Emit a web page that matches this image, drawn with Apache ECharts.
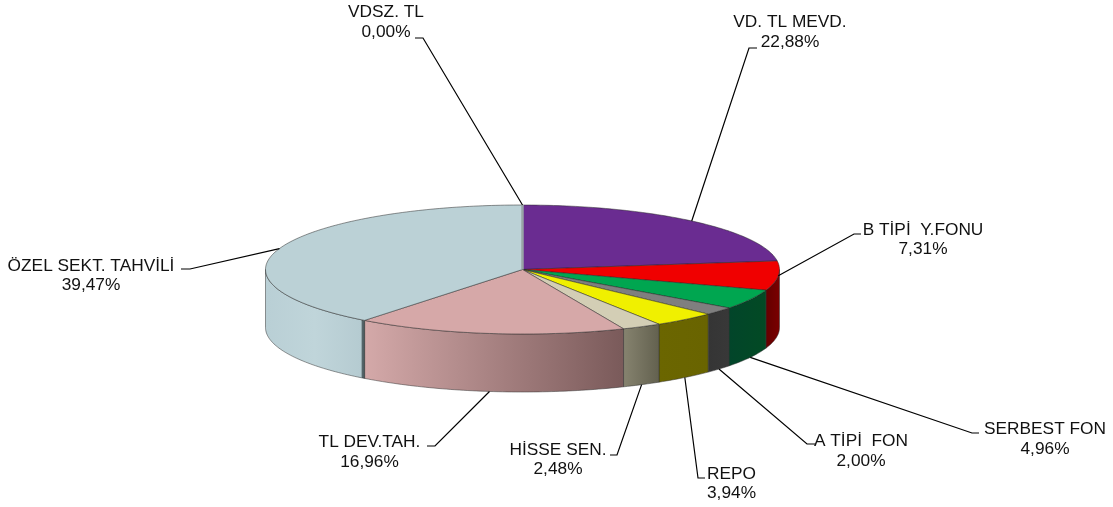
<!DOCTYPE html>
<html>
<head>
<meta charset="utf-8">
<title>Portfoy dagilimi</title>
<style>
	html,body{margin:0;padding:0;background:#fff;}
	#chart{width:1113px;height:507px;}
</style>
<script src="https://cdn.jsdelivr.net/npm/echarts@6/dist/echarts.min.js"></script>
</head>
<body>
<div id="chart"></div>
<script>
var categories=['VDSZ. TL','VD. TL MEVD.','B TİPİ  Y.FONU','SERBEST FON','A TİPİ  FON','REPO','HİSSE SEN.','TL DEV.TAH.','ÖZEL SEKT. TAHVİLİ'];
var shares=[0.00,22.88,7.31,4.96,2.00,3.94,2.48,16.96,39.47];

//colours of the slices, top face and side wall (gradient stops left to right)
var topColors=['#98a4a6','#6a2c91','#f00000','#00a650','#7f7f7f','#f0f000','#d3ceb5','#d6a8a8','#bbd1d6'];
var wallStops=[
	[[0,'#98a4a6'],[1,'#98a4a6']],
	[[0,'#6a2c91'],[1,'#6a2c91']],
	[[0,'#640000'],[1,'#7a0000']],
	[[0,'#02452a'],[1,'#024a24']],
	[[0,'#353535'],[1,'#383838']],
	[[0,'#6b6600'],[1,'#696400']],
	[[0,'#86836f'],[1,'#63614f']],
	[[0,'#d4a9a9'],[1,'#7a5a5a']],
	[[0,'#b9cfd5'],[0.5,'#c0d5da'],[0.965,'#b5cbd1'],[0.975,'#56666a'],[1,'#4a5a5e']]
];

//label centres and leader line bends
var labelPos=[[386,22],[790,32],[923,239.5],[1045,439],[861,451],[731.5,483.5],[558,459.5],[369.5,452],[91,275.5]];
var leaderPos=[
	[[423,38],[415,38]],[[749,48],[757,48]],[[854,234],[861,234]],[[972,433],[979,433]],
	[[807,444],[815,444]],[[698,478],[705,478]],[[617,455],[610,455]],[[435,446],[427,446]],[[190,269],[181,269]]
];

//pie geometry
var cx=522.5,cy=269.5,rx=257,ry=64.5,depth=58;

function point(deg,drop){
	var r=deg*Math.PI/180;
	return [cx+rx*Math.sin(r),cy-ry*Math.cos(r)+drop];
}
function arc(from,to,drop){
	var pts=[];
	var n=Math.max(1,Math.ceil(to-from));
	for(var i=0;i<=n;i++){
		pts.push(point(from+(to-from)*i/n,drop));
	}
	return pts;
}

var starts=[];
var sum=0;
shares.map(function(v){
	starts.push(sum);
	sum+=v;
});

function renderSlice(params,api){
	var i=params.dataIndex;
	var share=api.value(0);
	var a0=starts[i]*3.6;
	var a1=(starts[i]+share)*3.6;
	var children=[];

	//side wall only exists on the front half
	var w0=Math.max(a0,90);
	var w1=Math.min(a1,270);
	if(w1>w0){
		var lower=arc(w0,w1,depth);
		var wall=arc(w0,w1,0).concat(lower.reverse());
		var xs=wall.map(function(p){return p[0];});
		var stops=wallStops[i].map(function(s){
			return {offset:s[0],color:s[1]};
		});
		children.push({
			type:'polygon',
			z2:1,
			shape:{points:wall},
			style:{
				fill:new echarts.graphic.LinearGradient(Math.min.apply(null,xs),0,Math.max.apply(null,xs),0,stops,true),
				stroke:'rgba(50,50,50,0.5)',
				lineWidth:1
			}
		});
	}

	//top face
	var face=[[cx,cy]].concat(arc(a0,a1,0));
	children.push({
		type:'polygon',
		z2:share==0?4:2,
		shape:{points:face},
		style:{
			fill:topColors[i],
			stroke:share==0?topColors[i]:'rgba(40,40,40,0.5)',
			lineWidth:share==0?2.5:1
		}
	});

	//leader line and label, it leaves from the wall when the slice faces front
	var mid=(a0+a1)/2;
	var anchor=point(mid,mid>100&&mid<270?depth:0);
	children.push({
		type:'polyline',
		z2:5,
		shape:{points:[anchor,leaderPos[i][0],leaderPos[i][1]]},
		style:{fill:null,stroke:'#000',lineWidth:1.2}
	});
	children.push({
		type:'text',
		z2:6,
		style:{
			text:categories[i]+'\n'+share.toFixed(2).replace('.',',')+'%',
			x:labelPos[i][0],
			y:labelPos[i][1],
			align:'center',
			verticalAlign:'middle',
			lineHeight:19.5,
			font:'17.3px "Liberation Sans"',
			fill:'#111'
		}
	});
	return {type:'group',children:children};
}

var myChart=echarts.init(document.getElementById('chart'));
var option={
	animation:false,
	series:[{
		type:'custom',
		coordinateSystem:'none',
		silent:true,
		renderItem:renderSlice,
		data:shares.map(function(v){return [v];})
	}]
};
myChart.setOption(option);
</script>
</body>
</html>
